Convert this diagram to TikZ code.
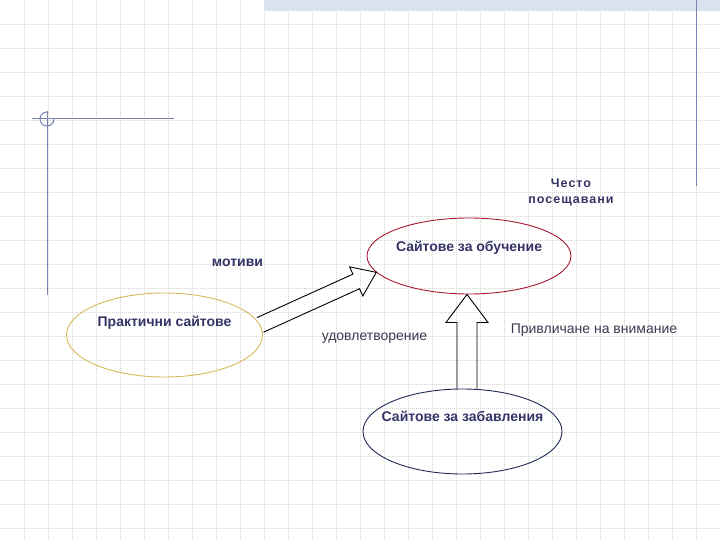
\documentclass[tikz,border=0pt]{standalone}
\usepackage{fontspec}
\setmainfont{Liberation Sans}
\usetikzlibrary{shapes.geometric, calc}

\definecolor{navytext}{HTML}{333366}
\definecolor{graytext}{HTML}{3A3A50}
\definecolor{gridgray}{HTML}{D2D2D2}
\definecolor{framelines}{HTML}{7882B2}
\definecolor{barblue}{HTML}{DAE1EF}
\definecolor{goldline}{HTML}{D8B85A}
\definecolor{redline}{HTML}{A81830}
\definecolor{blueline}{HTML}{1E2A55}

\tikzset{
  gridline/.style={gridgray, line width=0.8pt, dash pattern=on 1pt off 1pt},
  frame/.style={framelines, line width=1pt},
  site/.style={ellipse, draw, line width=0.9pt, inner sep=0pt},
  sitetext/.style={font=\fontsize{14}{16}\selectfont\bfseries, text=navytext},
  note/.style={font=\fontsize{14}{17}\selectfont, text=graytext},
  blockarrow/.style={draw=black, line width=0.9pt, line join=miter}
}

% block arrow: from, to, half shaft, half head, head length
\newcommand{\blockarr}[5]{%
  \coordinate (hb) at ($(#2)!#5!(#1)$);
  \draw[blockarrow] ($(#1)!#3!90:(#2)$) -- ($(hb)!#3!-90:(#1)$)
    -- ($(hb)!#4!-90:(#1)$) -- (#2) -- ($(hb)!#4!90:(#1)$)
    -- ($(hb)!#3!90:(#1)$) -- ($(#1)!#3!-90:(#2)$);
}

\begin{document}
\begin{tikzpicture}[x=1pt, y=-1pt]
\useasboundingbox (0,0) rectangle (720,540);
% grid
\foreach \i in {1,...,29} \draw[gridline] (24*\i,0) -- (24*\i,540);
\foreach \j in {1,...,22} \draw[gridline] (0,24*\j) -- (720,24*\j);
% page decoration
\fill[barblue] (264,0) rectangle (720,11);
\draw[frame] (696,0) -- (696,186);
\draw[frame] (32,119) -- (174,119);
\draw[frame] (47,111) -- (47,295);
\draw[frame] (54,119) arc[start angle=0, end angle=-270, radius=7pt];

% sites
\node[site, draw=goldline, minimum width=196pt, minimum height=84pt] (prakt) at (164.5,335) {};
\node[site, draw=redline, minimum width=204pt, minimum height=76pt] (uchenie) at (469,256) {};
\node[site, draw=blueline, minimum width=199pt, minimum height=85pt] (zabava) at (462.5,431.5) {};
\node[sitetext, anchor=base] (prakt-t) at ([yshift=-34pt]prakt.north) {Практични сайтове};
\node[sitetext, anchor=base] (uchenie-t) at ([yshift=-34pt]uchenie.north) {Сайтове за обучение};
\node[sitetext, anchor=base] (zabava-t) at ([yshift=-33pt]zabava.north) {Сайтове за забавления};

% labels
\node[sitetext, font=\fontsize{12.5}{16}\selectfont\bfseries\addfontfeatures{LetterSpace=8}, align=center] (chesto) at (571,192) {Често\\посещавани};
\node[sitetext, anchor=base] (motivi) at (237.5,266) {мотиви};
\node[note, anchor=base] (udovl) at (374.5,340) {удовлетворение};
\node[note, anchor=base] (privl) at (594,333) {Привличане на внимание};

% arrows
\blockarr{prakt.6}{uchenie.190.5}{8pt}{16pt}{22pt}
\coordinate (vbase) at ([xshift=4.5pt]zabava.north);
\blockarr{vbase}{vbase |- uchenie.south}{10pt}{21pt}{28pt}
\end{tikzpicture}
\end{document}
